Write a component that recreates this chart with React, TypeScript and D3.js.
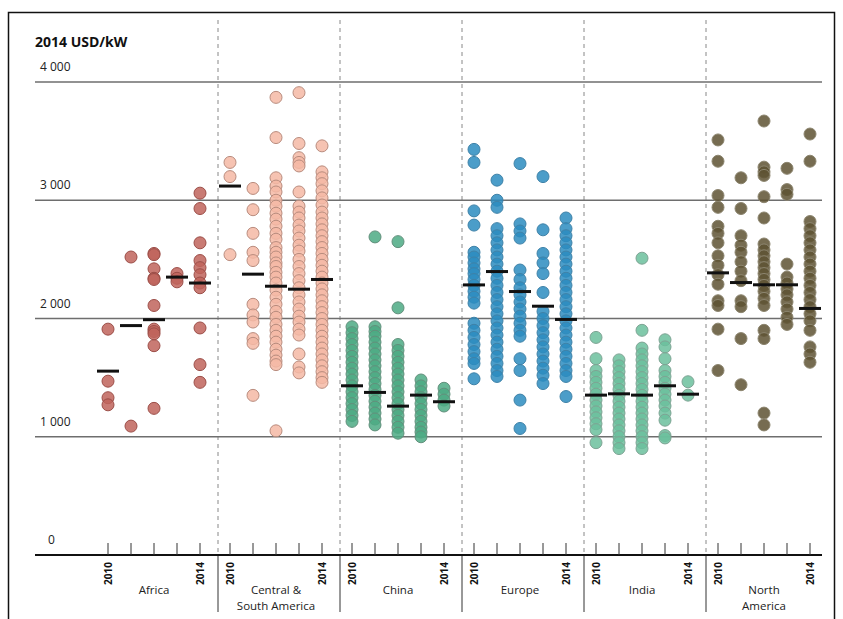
import { useEffect, useRef } from "react";
import * as d3 from "d3";

const regions = ["Africa", "Central & South America", "China", "Europe", "India", "North America"];
const regionLines = [["Africa"], ["Central &", "South America"], ["China"], ["Europe"], ["India"], ["North", "America"]];
const years = [2010, 2011, 2012, 2013, 2014];
const yTicks = [0, 1000, 2000, 3000, 4000];
const tickLabels = ["0", "1 000", "2 000", "3 000", "4 000"];

const africaCosts = [
  [1910, 1470, 1330, 1270],
  [2520, 1090],
  [2550, 2540, 2420, 2340, 2330, 2110, 1910, 1890, 1870, 1770, 1240],
  [2380, 2340, 2310],
  [3060, 2930, 2640, 2490, 2430, 2370, 2300, 2260, 1920, 1610, 1460],
];
const africaAverages = [1555, 1940, 1990, 2350, 2300];

const latamCosts = [
  [3320, 3200, 2540],
  [3100, 2920, 2720, 2560, 2490, 2120, 2030, 1970, 1830, 1790, 1350],
  [3870, 3530, 3190, 3120, 3070, 3000, 2950, 2890, 2840, 2780, 2720, 2670, 2600, 2560, 2520, 2470, 2440, 2390, 2350, 2300, 2240, 2180, 2120, 2060, 2010, 1950, 1900, 1850, 1800, 1740, 1690, 1640, 1610, 1050],
  [3910, 3480, 3360, 3320, 3290, 3070, 2950, 2900, 2850, 2790, 2740, 2680, 2620, 2570, 2500, 2440, 2380, 2320, 2260, 2200, 2140, 2080, 2020, 1970, 1910, 1860, 1700, 1590, 1540],
  [3460, 3240, 3190, 3140, 3080, 3020, 2960, 2900, 2850, 2800, 2750, 2700, 2650, 2600, 2550, 2500, 2450, 2400, 2350, 2300, 2250, 2200, 2150, 2100, 2050, 2000, 1950, 1900, 1850, 1800, 1750, 1700, 1650, 1600, 1550, 1500, 1460],
];
const latamAverages = [3120, 2375, 2273, 2248, 2330];

const chinaCosts = [
  [1930, 1880, 1830, 1780, 1730, 1680, 1630, 1580, 1530, 1480, 1430, 1380, 1330, 1280, 1230, 1180, 1130],
  [2690, 1930, 1890, 1850, 1800, 1750, 1700, 1650, 1600, 1550, 1500, 1450, 1400, 1350, 1300, 1250, 1200, 1150, 1100],
  [2650, 2090, 1780, 1730, 1680, 1630, 1580, 1530, 1480, 1430, 1380, 1330, 1280, 1230, 1180, 1130, 1080, 1030],
  [1480, 1430, 1380, 1330, 1280, 1230, 1180, 1130, 1080, 1040, 1000],
  [1410, 1360, 1310, 1260],
];
const chinaAverages = [1431, 1375, 1259, 1352, 1296];

const europeCosts = [
  [3430, 3320, 2910, 2790, 2560, 2520, 2470, 2420, 2380, 2330, 2280, 2230, 2180, 2130, 1960, 1900, 1840, 1780, 1720, 1660, 1620, 1490],
  [3170, 3000, 2940, 2760, 2700, 2640, 2580, 2520, 2460, 2400, 2340, 2280, 2220, 2160, 2100, 2040, 1980, 1920, 1860, 1800, 1740, 1680, 1620, 1560, 1510],
  [3310, 2800, 2740, 2680, 2410, 2330, 2260, 2200, 2140, 2080, 2020, 1960, 1900, 1850, 1660, 1560, 1310, 1070],
  [3200, 2750, 2550, 2470, 2380, 2220, 2060, 2000, 1940, 1880, 1820, 1760, 1700, 1640, 1580, 1520, 1450],
  [2850, 2760, 2700, 2640, 2580, 2520, 2460, 2400, 2340, 2280, 2220, 2160, 2100, 2040, 1980, 1920, 1860, 1800, 1740, 1680, 1620, 1560, 1510, 1340],
];
const europeAverages = [2284, 2397, 2228, 2104, 1992];

const indiaCosts = [
  [1840, 1660, 1560, 1510, 1460, 1410, 1360, 1310, 1260, 1210, 1160, 1110, 1060, 950],
  [1650, 1600, 1550, 1500, 1450, 1400, 1350, 1300, 1250, 1200, 1150, 1100, 1050, 1000, 950, 900],
  [2510, 1900, 1750, 1700, 1650, 1600, 1550, 1500, 1450, 1400, 1350, 1300, 1250, 1200, 1150, 1100, 1050, 1000, 950, 900],
  [1820, 1760, 1660, 1560, 1510, 1460, 1410, 1360, 1310, 1260, 1200, 1140, 1010, 990],
  [1465, 1352],
];
const indiaAverages = [1352, 1363, 1352, 1431, 1360];

const northAmericaCosts = [
  [3510, 3330, 3040, 2940, 2780, 2720, 2640, 2530, 2450, 2370, 2290, 2150, 2110, 1910, 1560],
  [3190, 2930, 2700, 2620, 2560, 2480, 2400, 2320, 2150, 2100, 1830, 1440],
  [3670, 3280, 3240, 3210, 3030, 2850, 2630, 2580, 2530, 2480, 2430, 2380, 2330, 2280, 2230, 2170, 2110, 1900, 1830, 1200, 1100],
  [3270, 3090, 3050, 2460, 2350, 2300, 2250, 2200, 2140, 2080, 2010, 1950],
  [3560, 3330, 2820, 2760, 2700, 2640, 2580, 2520, 2460, 2400, 2340, 2280, 2220, 2160, 2100, 2040, 1980, 1900, 1760, 1700, 1630],
];
const northAmericaAverages = [2386, 2304, 2285, 2285, 2085];

const regionCosts = [africaCosts, latamCosts, chinaCosts, europeCosts, indiaCosts, northAmericaCosts];
const regionAverages = [africaAverages, latamAverages, chinaAverages, europeAverages, indiaAverages, northAmericaAverages];
const fills = ["#c0645c", "#f4b8a4", "#4caa84", "#2b8cc0", "#6bc09c", "#5e5232"];
const strokes = ["#9c4e48", "#b98c7e", "#62907c", "#3f82a8", "#7ea494", "#8c856f"];

const W = 843;
const H = 619;
const FONT = "'Open Sans', 'DejaVu Sans', sans-serif";

export default function App() {
  const svgRef = useRef<SVGSVGElement | null>(null);

  useEffect(() => {
    const svg = d3.select(svgRef.current);
    svg.selectAll("*").remove();

    const y = d3.scaleLinear().domain([0, 4000]).range([555, 82]);
    const xRegion = d3.scaleBand().domain(regions).range([96, 828]);
    const xYear = d3.scalePoint<number>().domain(years).range([12, 104]);
    const left = 35;
    const right = 822;

    // frame
    svg.append("rect").attr("x", 8.5).attr("y", 12.5).attr("width", 826).attr("height", 640)
      .attr("fill", "white").attr("stroke", "#111").attr("stroke-width", 1.5);

    svg.append("text").attr("x", 35).attr("y", 47).attr("font-family", FONT)
      .attr("font-size", 14).attr("font-weight", 700).attr("fill", "#111").text("2014 USD/kW");

    // separators
    regions.slice(1).forEach((r) => {
      const sx = xRegion(r)!;
      svg.append("line").attr("x1", sx).attr("x2", sx).attr("y1", 20).attr("y2", 555)
        .attr("stroke", "#888").attr("stroke-width", 1).attr("stroke-dasharray", "4,4");
      svg.append("line").attr("x1", sx).attr("x2", sx).attr("y1", 555).attr("y2", 612)
        .attr("stroke", "#333").attr("stroke-width", 1);
    });

    // gridlines and labels
    yTicks.forEach((t, i) => {
      svg.append("line").attr("x1", left).attr("x2", right).attr("y1", y(t)).attr("y2", y(t))
        .attr("stroke", t === 0 ? "#111" : "#6e6e6e").attr("stroke-width", t === 0 ? 2 : 1.6);
      svg.append("text").attr("x", t === 0 ? 48 : 40).attr("y", y(t) - 11)
        .attr("font-family", FONT).attr("font-size", 12).attr("fill", "#222").text(tickLabels[i]);
    });

    // dots
    regions.forEach((r, ri) => {
      const g = svg.append("g").attr("transform", `translate(${xRegion(r)},0)`);
      years.forEach((yr, yi) => {
        g.selectAll(null).data(regionCosts[ri][yi]).enter().append("circle")
          .attr("cx", xYear(yr)!).attr("cy", (d) => y(d)).attr("r", 6)
          .attr("fill", fills[ri]).attr("fill-opacity", 0.85)
          .attr("stroke", strokes[ri]).attr("stroke-width", 1);
      });
      years.forEach((yr, yi) => {
        g.append("rect").attr("x", xYear(yr)! - 11).attr("y", y(regionAverages[ri][yi]) - 1.5)
          .attr("width", 22).attr("height", 3).attr("fill", "#111");
      });
      // year ticks above baseline
      years.forEach((yr) => {
        g.append("line").attr("x1", xYear(yr)!).attr("x2", xYear(yr)!).attr("y1", 543).attr("y2", 555)
          .attr("stroke", "#333").attr("stroke-width", 1);
      });
      [2010, 2014].forEach((yr) => {
        g.append("text").attr("transform", `translate(${xYear(yr)},562) rotate(-90)`)
          .attr("text-anchor", "end").attr("dy", "0.35em")
          .attr("font-family", FONT).attr("font-size", 10).attr("font-weight", 700).attr("fill", "#111")
          .text(String(yr));
      });
      const cx = (xYear(2010)! + xYear(2014)!) / 2;
      regionLines[ri].forEach((line, li) => {
        g.append("text").attr("x", cx).attr("y", 594 + li * 16).attr("text-anchor", "middle")
          .attr("font-family", FONT).attr("font-size", 11.5).attr("fill", "#222").text(line);
      });
    });
  }, []);

  return (
    <svg ref={svgRef} width={W} height={H}
      style={{ position: "absolute", left: 0, top: 0, background: "white" }} />
  );
}
